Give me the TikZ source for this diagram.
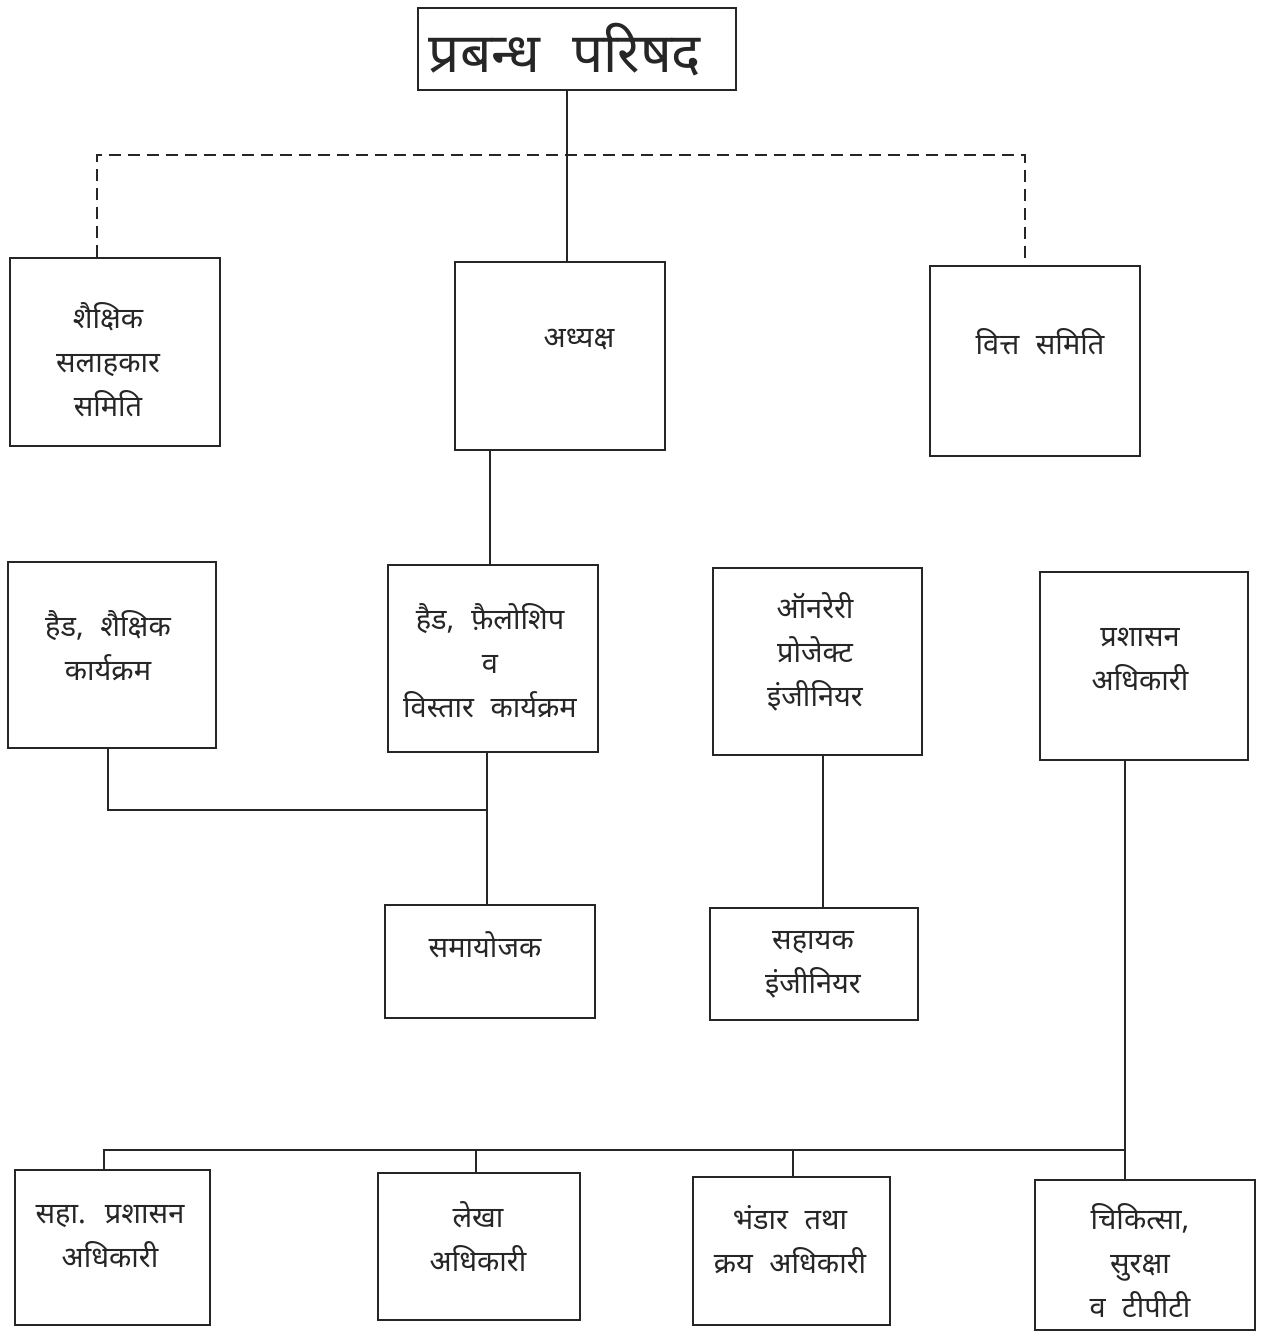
\documentclass[tikz,border=0pt]{standalone}
\usepackage{fontspec}
\newfontfamily\hin[Script=Devanagari,WordSpace=2.2]{Noto Sans}
\usetikzlibrary{fit}
\begin{document}
\begin{tikzpicture}[x=1pt,y=-1pt,
  box/.style={draw=black!85, line width=1.3pt, inner sep=0pt, rectangle},
  txt/.style={align=center, inner sep=0pt, text=black!85, font=\hin\fontsize{29}{44}\selectfont},
  conn/.style={draw=black!85, line width=1.3pt},
  dconn/.style={draw=black!85, line width=1.2pt, dash pattern=on 12pt off 7pt}]
\useasboundingbox[fill=white] (0,0) rectangle (1267,1333);
% boxes
\node[box, fit={(418,8) (736,90)}] (top) {};
\node[box, fit={(10,258) (220,446)}] (sal) {};
\node[box, fit={(455,262) (665,450)}] (adh) {};
\node[box, fit={(930,266) (1140,456)}] (vit) {};
\node[box, fit={(8,562) (216,748)}] (hse) {};
\node[box, fit={(388,565) (598,752)}] (hfe) {};
\node[box, fit={(713,568) (922,755)}] (hon) {};
\node[box, fit={(1040,572) (1248,760)}] (pra) {};
\node[box, fit={(385,905) (595,1018)}] (sam) {};
\node[box, fit={(710,908) (918,1020)}] (sah) {};
\node[box, fit={(15,1170) (210,1325)}] (spa) {};
\node[box, fit={(378,1173) (580,1320)}] (lek) {};
\node[box, fit={(693,1177) (890,1325)}] (bhn) {};
\node[box, fit={(1035,1180) (1255,1330)}] (chk) {};
% texts
\node[txt, font=\hin\fontsize{55}{60}\selectfont] (ttop) at (565,50) {प्रबन्ध परिषद};
\node[txt] (tsal) at (108,360) {शैक्षिक\\सलाहकार\\समिति};
\node[txt] (tadh) at (579,340) {अध्यक्ष};
\node[txt] (tvit) at (1040,342) {वित्त समिति};
\node[txt] (thse) at (108,646) {हैड, शैक्षिक\\कार्यक्रम};
\node[txt] (thfe) at (490,661) {हैड, फ़ैलोशिप\\व\\विस्तार कार्यक्रम};
\node[txt] (thon) at (815,652) {ऑनरेरी\\प्रोजेक्ट\\इंजीनियर};
\node[txt] (tpra) at (1140,660) {प्रशासन\\अधिकारी};
\node[txt] (tsam) at (485,945) {समायोजक};
\node[txt] (tsah) at (813,965) {सहायक\\इंजीनियर};
\node[txt] (tspa) at (110,1236) {सहा. प्रशासन\\अधिकारी};
\node[txt] (tlek) at (478,1237) {लेखा\\अधिकारी};
\node[txt] (tbhn) at (790,1240) {भंडार तथा\\क्रय अधिकारी};
\node[txt] (tchk) at (1140,1260) {चिकित्सा,\\सुरक्षा\\व टीपीटी};
% junction coordinates
\coordinate (j0) at (567,155);
\coordinate (dl) at (97,155);
\coordinate (dr) at (1025,155);
\coordinate (j1) at (490,500);
\coordinate (j2) at (108,810);
\coordinate (j3) at (487,810);
\coordinate (j4) at (823,830);
\coordinate (j5) at (1125,1150);
\coordinate (b1) at (104,1150);
\coordinate (b2) at (476,1150);
\coordinate (b3) at (793,1150);
% connectors
\draw[conn] (j0 |- top.south) -- (j0 |- adh.north);
\draw[dconn] (dl |- sal.north) -- (dl) -- (dr) -- (dr |- vit.north);
\draw[conn] (j1 |- adh.south) -- (j1 |- hfe.north);
\draw[conn] (j2 |- hse.south) -- (j2) -- (j3);
\draw[conn] (j3 |- hfe.south) -- (j3 |- sam.north);
\draw[conn] (j4 |- hon.south) -- (j4 |- sah.north);
\draw[conn] (j5 |- pra.south) -- (j5 |- chk.north);
\draw[conn] (b1 |- spa.north) -- (b1) -- (j5);
\draw[conn] (b2) -- (b2 |- lek.north);
\draw[conn] (b3) -- (b3 |- bhn.north);
\end{tikzpicture}
\end{document}
